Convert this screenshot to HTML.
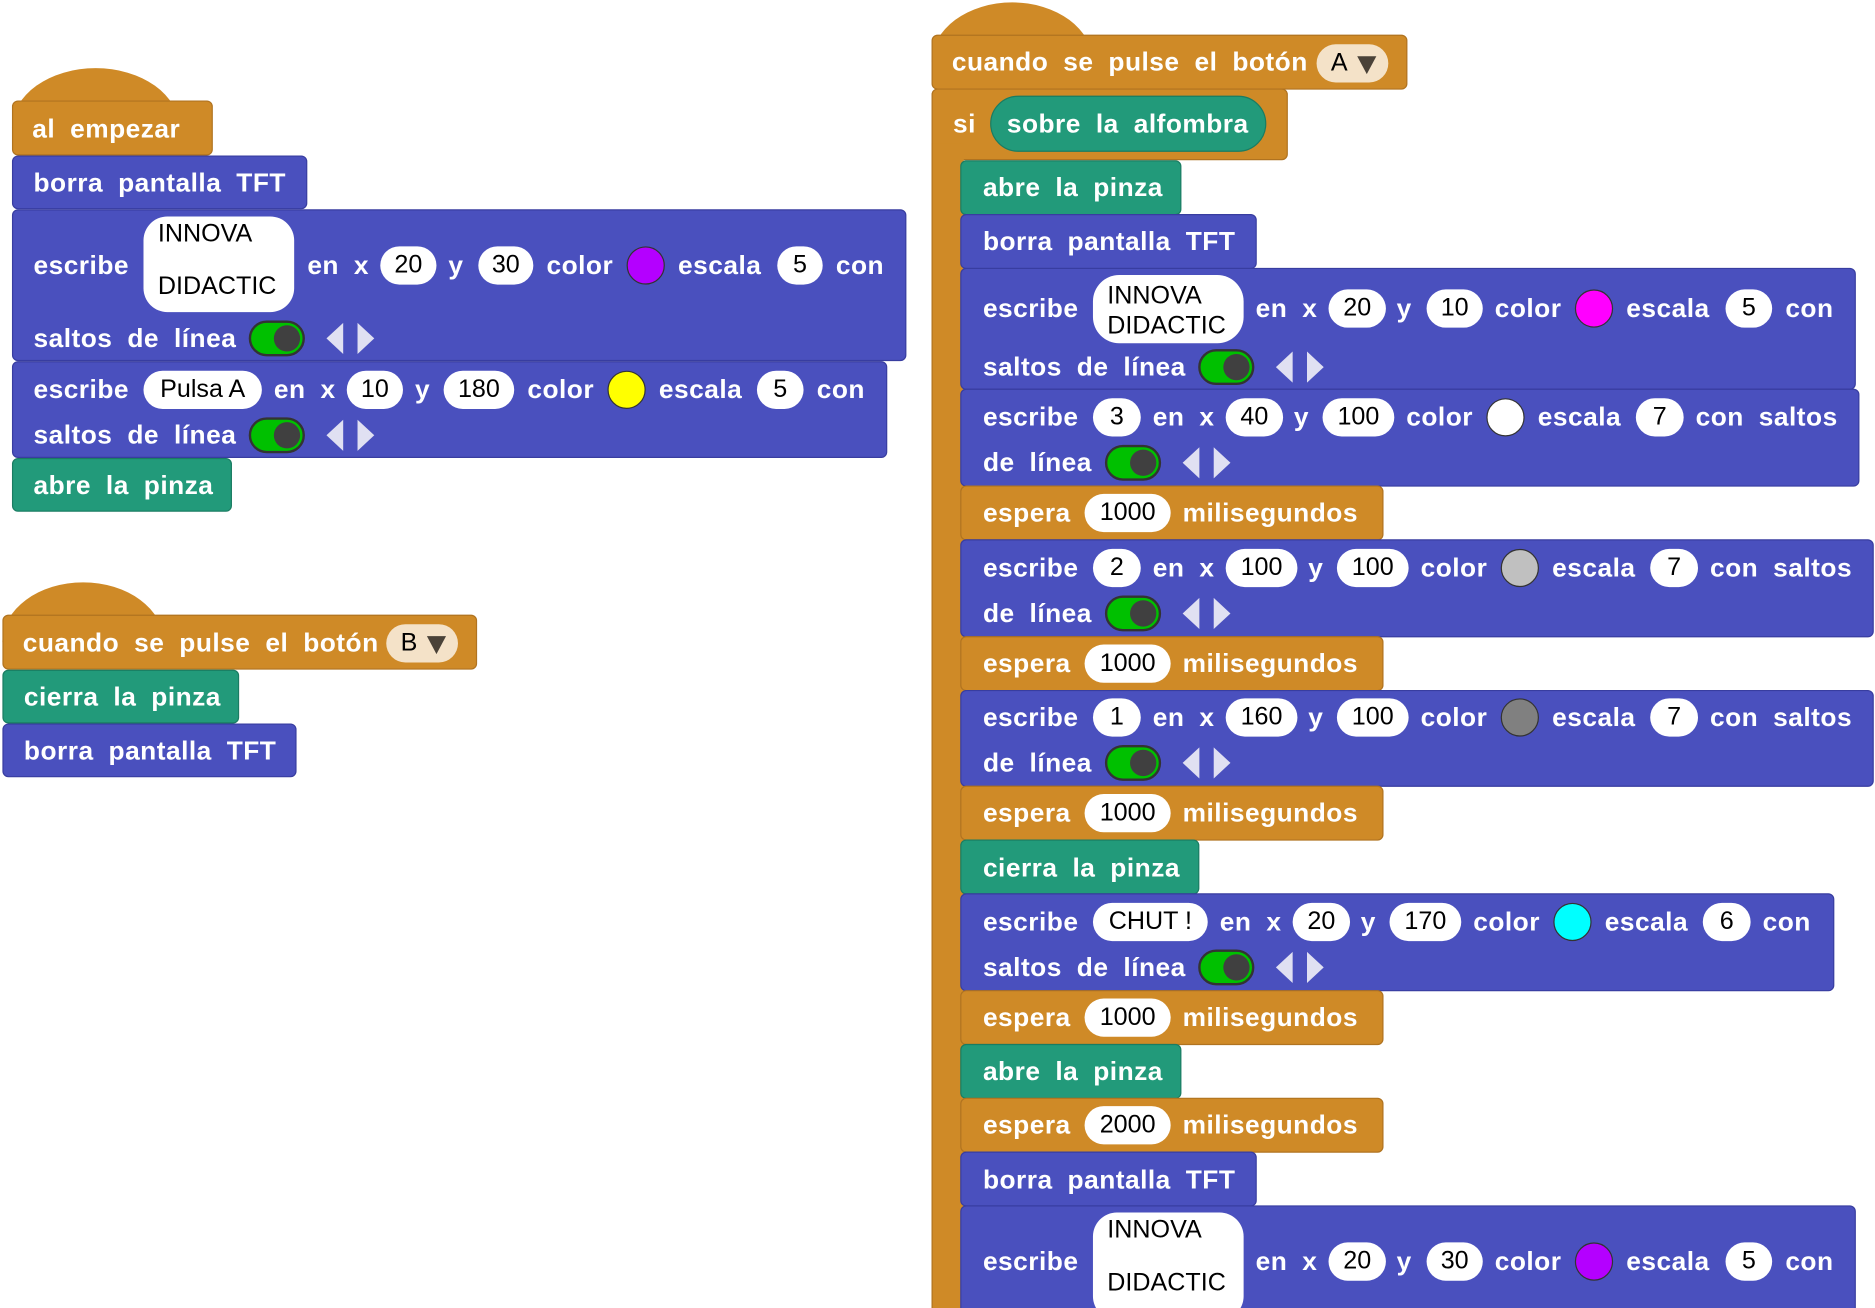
<!DOCTYPE html>
<html><head><meta charset="utf-8"><style>
html,body{margin:0;padding:0;background:#fff;width:1875px;height:1308px;overflow:hidden}
#wrap{position:absolute;left:0;top:0;width:1568px;height:1094px;overflow:hidden;transform:scale(1.19579);transform-origin:0 0}
.b{position:absolute;border-radius:5px;box-sizing:border-box}
.blue{background:#4a50be;border:1px solid #383da0}
.or{background:#cf8a27;border:1px solid #b07320}
.tl{background:#229a7a;border:1px solid #1a7c62}
.hat{position:absolute;border-radius:50% 50% 0 0/100% 100% 0 0;background:#cf8a27}
.w{position:absolute;color:#fff;font:bold 22px "Liberation Sans",sans-serif;white-space:pre;transform:translateY(-50%);line-height:1;word-spacing:6px;letter-spacing:0.4px}
.in{position:absolute;background:#fff;border-radius:16px;height:32px;color:#000;font:21px "Liberation Sans",sans-serif;text-align:center;line-height:32px;box-sizing:border-box}
.dd{position:absolute;background:#f4e2c8;border-radius:16px;height:32px;color:#000;font:21px "Liberation Sans",sans-serif;line-height:32px;padding-left:12px;box-sizing:border-box}
.dd i{position:absolute;right:10px;top:10px;width:0;height:0;border-left:8px solid transparent;border-right:8px solid transparent;border-top:15px solid #4a4238}
.c{position:absolute;width:32px;height:32px;border-radius:50%;box-sizing:border-box;border:1px solid #333}
.tg{position:absolute;width:47px;height:30px;border-radius:15px;background:#00c000;border:2px solid #333;box-sizing:border-box}
.tg:after{content:"";position:absolute;right:2px;top:2px;width:22px;height:22px;border-radius:50%;background:#404040}
.ar{position:absolute;width:0;height:0;border-top:13px solid transparent;border-bottom:13px solid transparent}
.al{border-right:14px solid #e0e0f2}
.arr{border-left:14px solid #e0e0f2}
.big{line-height:22px;text-align:left;padding:4px 0 0 12px}
</style></head><body><div id="wrap">

<!-- LEFT: al empezar -->
<div class="hat" style="left:10px;top:57px;width:140px;height:50px"></div>
<div class="b or" style="left:10px;top:84px;width:168px;height:46px"></div>
<span class="w" style="left:27px;top:108px">al empezar</span>
<div class="b blue" style="left:10px;top:130px;width:247px;height:45px"></div>
<span class="w" style="left:28px;top:153px">borra pantalla TFT</span>
<div class="b blue" style="left:10px;top:175px;width:748px;height:127px"></div>
<span class="w" style="left:28px;top:222px">escribe</span>
<div class="in big" style="left:120px;top:181px;width:126px;height:80px;border-radius:20px">INNOVA<br><br>DIDACTIC</div>
<span class="w" style="left:257px;top:222px">en x</span>
<div class="in" style="left:318px;top:206px;width:47px">20</div>
<span class="w" style="left:375px;top:222px">y</span>
<div class="in" style="left:400px;top:206px;width:46px">30</div>
<span class="w" style="left:457px;top:222px">color</span>
<div class="c" style="left:524px;top:206px;background:#b400ff"></div>
<span class="w" style="left:567px;top:222px">escala</span>
<div class="in" style="left:650px;top:206px;width:38px">5</div>
<span class="w" style="left:699px;top:222px">con</span>
<span class="w" style="left:28px;top:283px">saltos de línea</span>
<div class="tg" style="left:208px;top:268px"></div>
<div class="ar al" style="left:273px;top:270px"></div><div class="ar arr" style="left:299px;top:270px"></div>

<div class="b blue" style="left:10px;top:302px;width:732px;height:81px"></div>
<span class="w" style="left:28px;top:326px">escribe</span>
<div class="in" style="left:120px;top:310px;width:99px">Pulsa A</div>
<span class="w" style="left:229px;top:326px">en x</span>
<div class="in" style="left:290px;top:310px;width:47px">10</div>
<span class="w" style="left:347px;top:326px">y</span>
<div class="in" style="left:371px;top:310px;width:59px">180</div>
<span class="w" style="left:441px;top:326px">color</span>
<div class="c" style="left:508px;top:310px;background:#ffff00"></div>
<span class="w" style="left:551px;top:326px">escala</span>
<div class="in" style="left:633px;top:310px;width:39px">5</div>
<span class="w" style="left:683px;top:326px">con</span>
<span class="w" style="left:28px;top:364px">saltos de línea</span>
<div class="tg" style="left:208px;top:349px"></div>
<div class="ar al" style="left:273px;top:351px"></div><div class="ar arr" style="left:299px;top:351px"></div>
<div class="b tl" style="left:10px;top:383px;width:184px;height:45px"></div>
<span class="w" style="left:28px;top:406px">abre la pinza</span>

<!-- LEFT: boton B -->
<div class="hat" style="left:2px;top:487px;width:135px;height:50px"></div>
<div class="b or" style="left:2px;top:514px;width:397px;height:46px"></div>
<span class="w" style="left:19px;top:538px">cuando se pulse el botón</span>
<div class="dd" style="left:323px;top:522px;width:60px">B<i></i></div>
<div class="b tl" style="left:2px;top:560px;width:198px;height:45px"></div>
<span class="w" style="left:20px;top:583px">cierra la pinza</span>
<div class="b blue" style="left:2px;top:605px;width:246px;height:45px"></div>
<span class="w" style="left:20px;top:628px">borra pantalla TFT</span>

<!-- RIGHT: boton A -->
<div class="hat" style="left:779px;top:2px;width:135px;height:50px"></div>
<div class="b or" style="left:779px;top:29px;width:398px;height:46px"></div>
<span class="w" style="left:796px;top:52px">cuando se pulse el botón</span>
<div class="dd" style="left:1101px;top:37px;width:60px">A<i></i></div>
<div class="b or" style="left:779px;top:74px;width:298px;height:60px"></div>
<div style="position:absolute;left:779px;top:120px;width:26px;height:980px;background:#cf8a27;border-left:1px solid #b07320"></div>
<span class="w" style="left:797px;top:104px">si</span>
<div style="position:absolute;left:828px;top:80px;width:231px;height:47px;border-radius:24px;background:#229a7a;border:1px solid #1a7c62;box-sizing:border-box"></div>
<span class="w" style="left:842px;top:104px">sobre la alfombra</span>

<div class="b tl" style="left:803px;top:134px;width:185px;height:46px"></div>
<span class="w" style="left:822px;top:157px">abre la pinza</span>
<div class="b blue" style="left:803px;top:179px;width:248px;height:46px"></div>
<span class="w" style="left:822px;top:202px">borra pantalla TFT</span>

<div class="b blue" style="left:803px;top:224px;width:749px;height:102px"></div>
<span class="w" style="left:822px;top:258px">escribe</span>
<div class="in big" style="left:914px;top:230px;width:126px;height:57px;border-radius:22px;padding-top:5px;line-height:25px">INNOVA<br>DIDACTIC</div>
<span class="w" style="left:1050px;top:258px">en x</span>
<div class="in" style="left:1111px;top:242px;width:48px">20</div>
<span class="w" style="left:1168px;top:258px">y</span>
<div class="in" style="left:1193px;top:242px;width:47px">10</div>
<span class="w" style="left:1250px;top:258px">color</span>
<div class="c" style="left:1317px;top:242px;background:#ff00ff"></div>
<span class="w" style="left:1360px;top:258px">escala</span>
<div class="in" style="left:1443px;top:242px;width:39px">5</div>
<span class="w" style="left:1493px;top:258px">con</span>
<span class="w" style="left:822px;top:307px">saltos de línea</span>
<div class="tg" style="left:1002px;top:292px"></div>
<div class="ar al" style="left:1067px;top:294px"></div><div class="ar arr" style="left:1093px;top:294px"></div>

<div class="b blue" style="left:803px;top:325px;width:752px;height:82px"></div>
<span class="w" style="left:822px;top:349px">escribe</span>
<div class="in" style="left:914px;top:333px;width:40px">3</div>
<span class="w" style="left:964px;top:349px">en x</span>
<div class="in" style="left:1025px;top:333px;width:48px">40</div>
<span class="w" style="left:1082px;top:349px">y</span>
<div class="in" style="left:1106px;top:333px;width:60px">100</div>
<span class="w" style="left:1176px;top:349px">color</span>
<div class="c" style="left:1243px;top:333px;background:#ffffff"></div>
<span class="w" style="left:1286px;top:349px">escala</span>
<div class="in" style="left:1368px;top:333px;width:40px">7</div>
<span class="w" style="left:1418px;top:349px">con saltos</span>
<span class="w" style="left:822px;top:387px">de línea</span>
<div class="tg" style="left:924px;top:372px"></div>
<div class="ar al" style="left:989px;top:374px"></div><div class="ar arr" style="left:1015px;top:374px"></div>

<div class="b or" style="left:803px;top:406px;width:354px;height:46px"></div>
<span class="w" style="left:822px;top:429px">espera</span>
<div class="in" style="left:907px;top:413px;width:72px">1000</div>
<span class="w" style="left:989px;top:429px">milisegundos</span>

<div class="b blue" style="left:803px;top:451px;width:764px;height:82px"></div>
<span class="w" style="left:822px;top:475px">escribe</span>
<div class="in" style="left:914px;top:459px;width:40px">2</div>
<span class="w" style="left:964px;top:475px">en x</span>
<div class="in" style="left:1025px;top:459px;width:60px">100</div>
<span class="w" style="left:1094px;top:475px">y</span>
<div class="in" style="left:1118px;top:459px;width:60px">100</div>
<span class="w" style="left:1188px;top:475px">color</span>
<div class="c" style="left:1255px;top:459px;background:#c0c0c0"></div>
<span class="w" style="left:1298px;top:475px">escala</span>
<div class="in" style="left:1380px;top:459px;width:40px">7</div>
<span class="w" style="left:1430px;top:475px">con saltos</span>
<span class="w" style="left:822px;top:513px">de línea</span>
<div class="tg" style="left:924px;top:498px"></div>
<div class="ar al" style="left:989px;top:500px"></div><div class="ar arr" style="left:1015px;top:500px"></div>

<div class="b or" style="left:803px;top:532px;width:354px;height:46px"></div>
<span class="w" style="left:822px;top:555px">espera</span>
<div class="in" style="left:907px;top:539px;width:72px">1000</div>
<span class="w" style="left:989px;top:555px">milisegundos</span>

<div class="b blue" style="left:803px;top:577px;width:764px;height:81px"></div>
<span class="w" style="left:822px;top:600px">escribe</span>
<div class="in" style="left:914px;top:584px;width:40px">1</div>
<span class="w" style="left:964px;top:600px">en x</span>
<div class="in" style="left:1025px;top:584px;width:60px">160</div>
<span class="w" style="left:1094px;top:600px">y</span>
<div class="in" style="left:1118px;top:584px;width:60px">100</div>
<span class="w" style="left:1188px;top:600px">color</span>
<div class="c" style="left:1255px;top:584px;background:#808080"></div>
<span class="w" style="left:1298px;top:600px">escala</span>
<div class="in" style="left:1380px;top:584px;width:40px">7</div>
<span class="w" style="left:1430px;top:600px">con saltos</span>
<span class="w" style="left:822px;top:638px">de línea</span>
<div class="tg" style="left:924px;top:623px"></div>
<div class="ar al" style="left:989px;top:625px"></div><div class="ar arr" style="left:1015px;top:625px"></div>

<div class="b or" style="left:803px;top:657px;width:354px;height:46px"></div>
<span class="w" style="left:822px;top:680px">espera</span>
<div class="in" style="left:907px;top:664px;width:72px">1000</div>
<span class="w" style="left:989px;top:680px">milisegundos</span>

<div class="b tl" style="left:803px;top:702px;width:200px;height:46px"></div>
<span class="w" style="left:822px;top:726px">cierra la pinza</span>

<div class="b blue" style="left:803px;top:747px;width:731px;height:82px"></div>
<span class="w" style="left:822px;top:771px">escribe</span>
<div class="in" style="left:914px;top:755px;width:96px">CHUT !</div>
<span class="w" style="left:1020px;top:771px">en x</span>
<div class="in" style="left:1081px;top:755px;width:48px">20</div>
<span class="w" style="left:1138px;top:771px">y</span>
<div class="in" style="left:1162px;top:755px;width:60px">170</div>
<span class="w" style="left:1232px;top:771px">color</span>
<div class="c" style="left:1299px;top:755px;background:#00ffff"></div>
<span class="w" style="left:1342px;top:771px">escala</span>
<div class="in" style="left:1424px;top:755px;width:40px">6</div>
<span class="w" style="left:1474px;top:771px">con</span>
<span class="w" style="left:822px;top:809px">saltos de línea</span>
<div class="tg" style="left:1002px;top:794px"></div>
<div class="ar al" style="left:1067px;top:796px"></div><div class="ar arr" style="left:1093px;top:796px"></div>

<div class="b or" style="left:803px;top:828px;width:354px;height:46px"></div>
<span class="w" style="left:822px;top:851px">espera</span>
<div class="in" style="left:907px;top:835px;width:72px">1000</div>
<span class="w" style="left:989px;top:851px">milisegundos</span>

<div class="b tl" style="left:803px;top:873px;width:185px;height:46px"></div>
<span class="w" style="left:822px;top:896px">abre la pinza</span>

<div class="b or" style="left:803px;top:918px;width:354px;height:46px"></div>
<span class="w" style="left:822px;top:941px">espera</span>
<div class="in" style="left:907px;top:925px;width:72px">2000</div>
<span class="w" style="left:989px;top:941px">milisegundos</span>

<div class="b blue" style="left:803px;top:963px;width:248px;height:46px"></div>
<span class="w" style="left:822px;top:987px">borra pantalla TFT</span>

<div class="b blue" style="left:803px;top:1008px;width:749px;height:110px"></div>
<span class="w" style="left:822px;top:1055px">escribe</span>
<div class="in big" style="left:914px;top:1014px;width:126px;height:90px;border-radius:20px">INNOVA<br><br>DIDACTIC</div>
<span class="w" style="left:1050px;top:1055px">en x</span>
<div class="in" style="left:1111px;top:1039px;width:48px">20</div>
<span class="w" style="left:1168px;top:1055px">y</span>
<div class="in" style="left:1193px;top:1039px;width:47px">30</div>
<span class="w" style="left:1250px;top:1055px">color</span>
<div class="c" style="left:1317px;top:1039px;background:#b400ff"></div>
<span class="w" style="left:1360px;top:1055px">escala</span>
<div class="in" style="left:1443px;top:1039px;width:39px">5</div>
<span class="w" style="left:1493px;top:1055px">con</span>

</div></body></html>
